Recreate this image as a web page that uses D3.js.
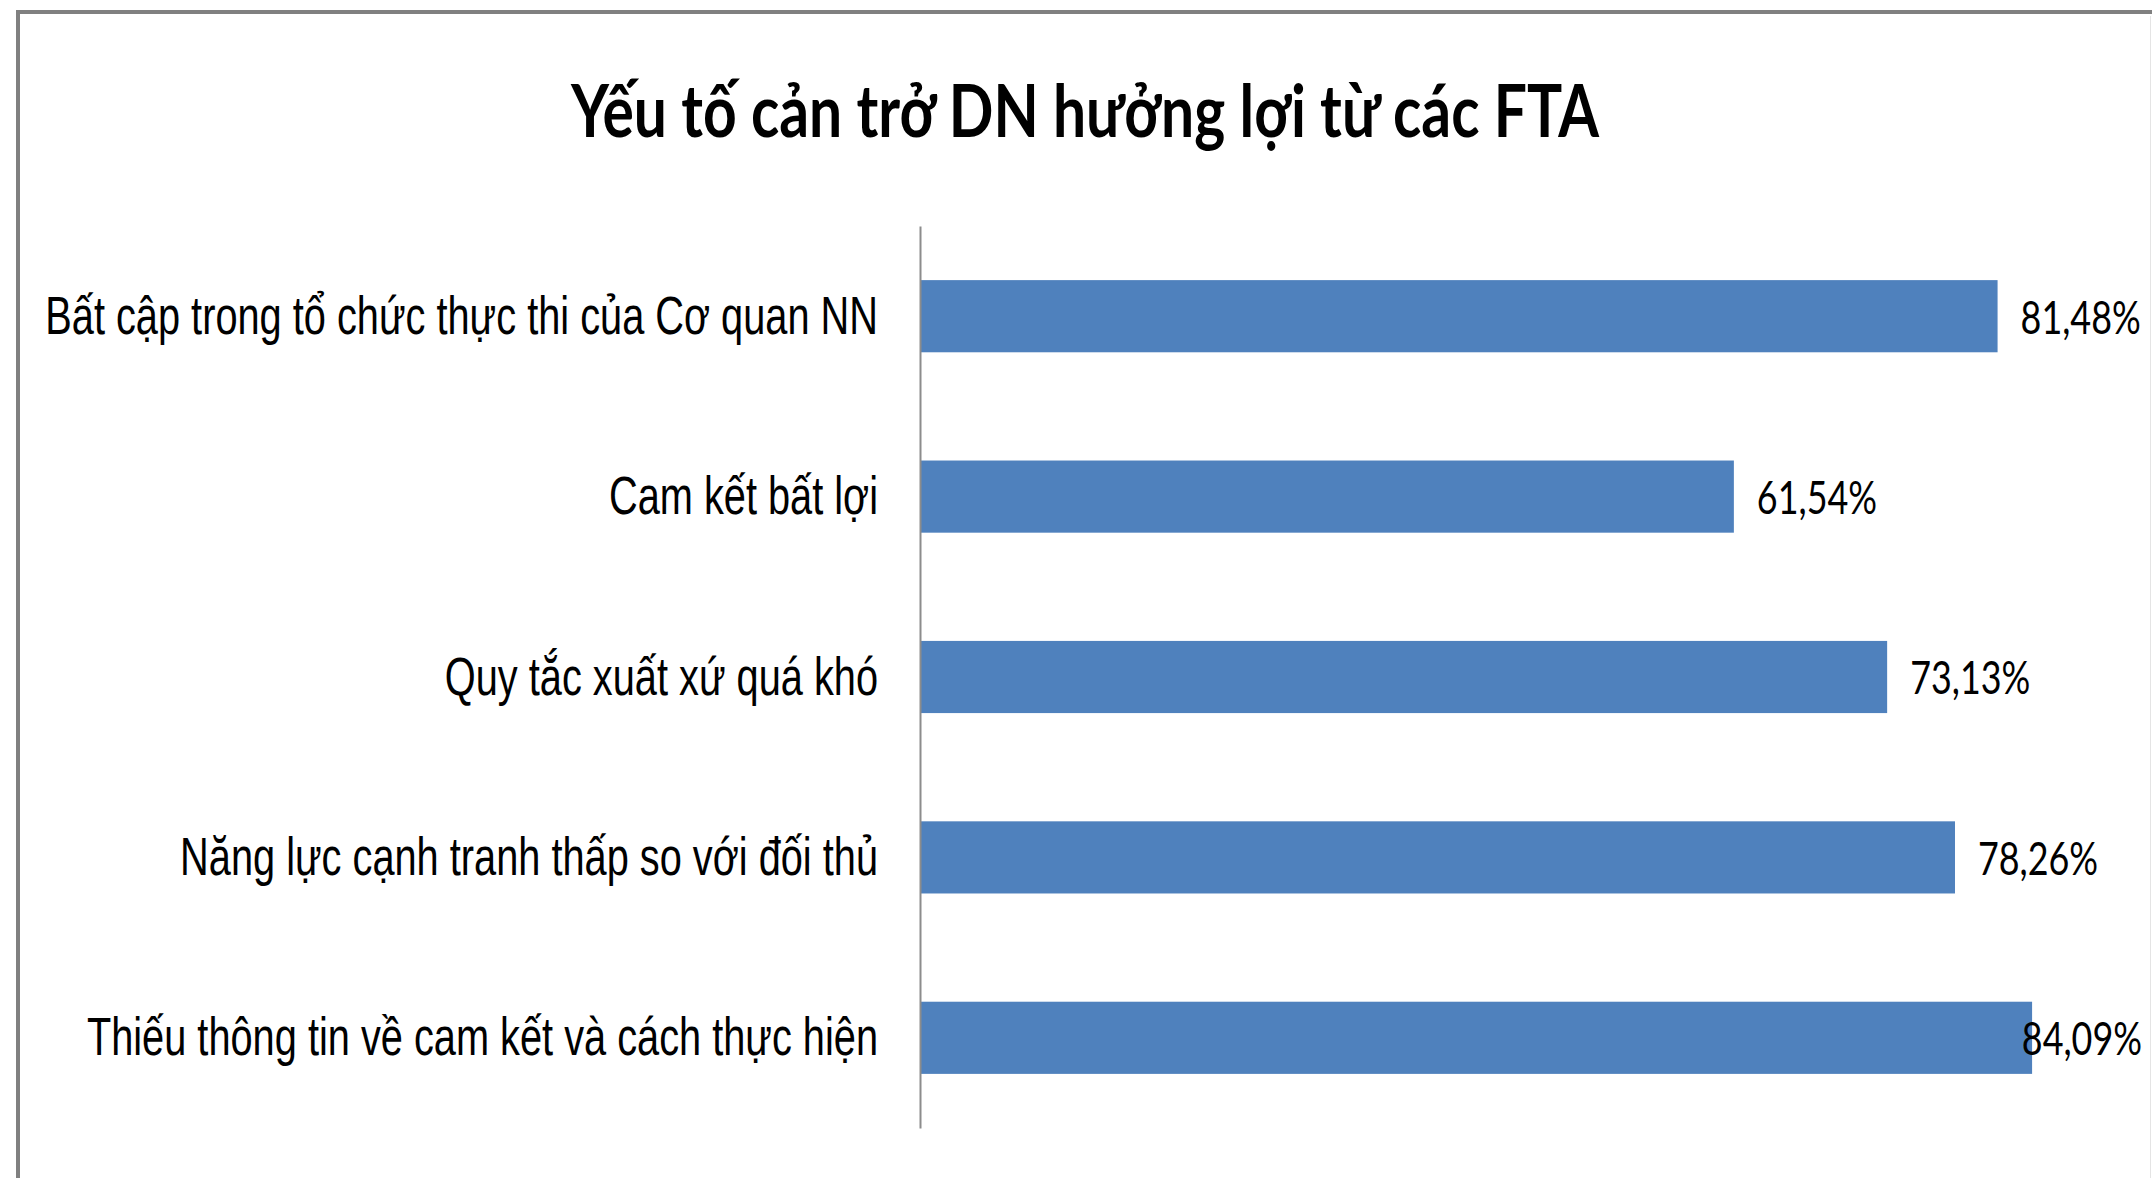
<!DOCTYPE html>
<html>
<head>
<meta charset="utf-8">
<script src="https://cdn.jsdelivr.net/npm/d3@7"></script>
<style>
  html, body { margin: 0; padding: 0; background: #fff; }
  svg { display: block; }
</style>
</head>
<body>
<svg id="chart" width="2152" height="1178"></svg>
<script>
const title = "Yếu tố cản trở DN hưởng lợi từ các FTA";
const categories = [
  "Bất cập trong tổ chức thực thi của Cơ quan NN",
  "Cam kết bất lợi",
  "Quy tắc xuất xứ quá khó",
  "Năng lực cạnh tranh thấp so với đối thủ",
  "Thiếu thông tin về cam kết và cách thực hiện"
];
const values = [81.48, 61.54, 73.13, 78.26, 84.09];
const valueLabels = ["81,48%", "61,54%", "73,13%", "78,26%", "84,09%"];

const W = 2152, H = 1178;
const svg = d3.select("#chart");

// frame
svg.append("rect").attr("x", 0).attr("y", 0).attr("width", W).attr("height", H).attr("fill", "#fff");
svg.append("path")
  .attr("d", `M18,${H + 10} L18,12 L${W + 10},12`)
  .attr("fill", "none").attr("stroke", "#808080").attr("stroke-width", 4);
svg.append("line").attr("x1", W - 1.5).attr("x2", W - 1.5).attr("y1", 16).attr("y2", H)
  .attr("stroke", "#e4e4e4").attr("stroke-width", 1);

const plot = { left: 920, top: 226, bottom: 1128 };
const x = d3.scaleLinear().domain([0, 100]).range([plot.left, plot.left + 1322.5]);
const y = d3.scaleBand().domain(categories).range([plot.top, plot.bottom]).paddingInner(0.6).paddingOuter(0.3);

// compress helper: keep height, narrow the glyphs
function squeeze(sel, sx) {
  sel.each(function () {
    const n = this.getComputedTextLength();
    d3.select(this).attr("textLength", n * sx).attr("lengthAdjust", "spacingAndGlyphs");
  });
}

// title
svg.append("text")
  .attr("x", 1085).attr("y", 137)
  .attr("text-anchor", "middle")
  .attr("font-family", "Lato, 'Open Sans', sans-serif")
  .attr("font-weight", "bold")
  .attr("font-size", 73)
  .attr("fill", "#000")
  .text(title)
  .call(squeeze, 0.805);

// bars
svg.append("g").selectAll("rect").data(categories).join("rect")
  .attr("x", x(0))
  .attr("y", d => y(d))
  .attr("width", (d, i) => x(values[i]) - x(0))
  .attr("height", y.bandwidth())
  .attr("fill", "#4F81BD");

// axis
const yAxis = d3.axisLeft(y).tickSize(0).tickPadding(42);
const ax = svg.append("g").attr("transform", `translate(${plot.left},0)`).call(yAxis);
ax.select(".domain").attr("stroke", "#8c8c8c").attr("stroke-width", 2);
ax.selectAll(".tick text")
  .attr("font-family", "'Liberation Sans', Arial, sans-serif")
  .attr("font-size", 53)
  .attr("fill", "#000")
  .attr("dy", "0.33em")
  .call(squeeze, 0.75);

// value labels (horizontally condensed via transform)
const rightLimit = 2142;
const valueSx = 0.78;
const vl = svg.append("g").selectAll("text").data(categories).join("text")
  .attr("x", 0).attr("y", 0)
  .attr("dy", "0.38em")
  .attr("font-family", "Lato, 'Open Sans', sans-serif")
  .attr("font-size", 46)
  .attr("fill", "#000")
  .text((d, i) => valueLabels[i]);
vl.each(function (d, i) {
  const w = this.getComputedTextLength() * valueSx;
  const x0 = Math.min(x(values[i]) + 23, rightLimit - w);
  const y0 = y(d) + y.bandwidth() / 2;
  d3.select(this).attr("transform", `translate(${x0},${y0}) scale(${valueSx},1)`);
});
</script>
</body>
</html>
